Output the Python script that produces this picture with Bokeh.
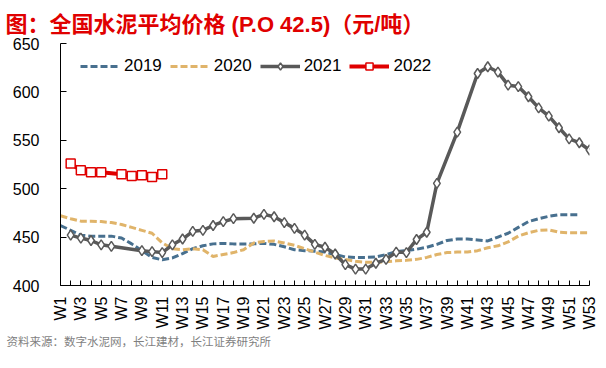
from math import pi
from bokeh.plotting import figure
from bokeh.models import FixedTicker, Range1d, Legend, LegendItem, Title
from bokeh.embed import file_html
from bokeh.resources import INLINE

# ---- data ----
week_numbers = list(range(1, 54))
tick_labels = {w: (f"W{w}" if w % 2 == 1 else "") for w in week_numbers}

weeks_2019 = list(range(1, 53))
vals_2019 = [462, 457, 452, 451, 451, 451, 449, 443, 436, 429,
             426.5, 428.5, 433, 438, 441, 443, 443.5, 443, 443, 443,
             443.5, 442.5, 440, 437, 436, 435.5, 434.5, 432, 429.5, 429,
             429, 429.5, 432, 435, 436, 437.5, 439.5, 442.5, 446.5, 448,
             448, 447, 446, 450, 454, 460, 466, 469, 471.5, 473,
             473, 473]

weeks_2020 = list(range(1, 54))
vals_2020 = [472, 469, 466.5, 466.5, 466, 465, 463, 460, 457, 454,
             444, 438, 437, 438, 437, 430, 432, 434, 437, 444,
             445.5, 446, 444, 441.5, 438, 434.5, 431, 428.5, 427, 425,
             424, 424, 424.5, 425.5, 426, 427, 429, 432, 434, 434.5,
             434.5, 436, 439, 441, 445, 451, 454.5, 457, 457.5, 455,
             454.5, 454.5, 454.5]

weeks_2021 = [2, 3, 4, 5, 6, 9, 10, 11, 12, 13, 14, 15, 16, 17, 18, 20,
              21, 22, 23, 24, 25, 26, 27, 28, 29, 30, 31, 32, 33, 34, 35,
              36, 37, 38, 40, 42, 43, 44, 45, 46, 47, 48, 49, 50, 51, 52, 53]
vals_2021 = [452, 449, 446.5, 442, 440.5, 436, 435, 434, 442, 448, 456, 457,
             462, 466, 469, 469.5, 473.5, 471, 465, 459, 452, 442.5, 439.5,
             432.5, 421.5, 417, 417, 423, 427, 434.5, 434, 447.5, 455, 505.5,
             558.5, 619, 626, 620.5, 607, 605.5, 595, 583.5, 575, 563, 551.5,
             547.5, 540]

weeks_2022 = [2, 3, 4, 5, 7, 8, 9, 10, 11]
vals_2022 = [526, 519, 517, 517, 515, 513, 514, 512, 515]

y_ticks = [400, 450, 500, 550, 600, 650]

title_text = "图：全国水泥平均价格 (P.O 42.5)（元/吨）"
source_text = "资料来源：数字水泥网，长江建材，长江证券研究所"

# ---- figure ----
FONT = "Liberation Sans"
MIXED = "Liberation Sans, 'Noto Sans CJK SC'"
p = figure(width=600, height=368, x_range=Range1d(1, 53), y_range=Range1d(400, 650),
           output_backend="svg", toolbar_location=None,
           min_border_left=60, min_border_right=11, min_border_top=43, min_border_bottom=83)
p.outline_line_color = None
p.xgrid.grid_line_color = None
p.ygrid.grid_line_color = None
p.background_fill_color = "white"
p.border_fill_color = "white"

c19 = "#48708F"
c20 = "#E0B46A"
c21 = "#595959"
c22 = "#E00000"

r19 = p.line(weeks_2019, vals_2019, line_color=c19, line_width=3, line_dash="7 3")
r20 = p.line(weeks_2020, vals_2020, line_color=c20, line_width=3, line_dash="7 3")
r21 = p.line(weeks_2021, vals_2021, line_color=c21, line_width=3.5)
r21m = p.scatter(weeks_2021, vals_2021, marker="diamond", size=10, fill_color="white",
                 line_color=c21, line_width=1.5)
r22 = p.line(weeks_2022, vals_2022, line_color=c22, line_width=4)
r22m = p.scatter(weeks_2022, vals_2022, marker="square", size=9, fill_color="white",
                 line_color=c22, line_width=1.5)

# axes
p.xaxis.ticker = FixedTicker(ticks=week_numbers)
p.xaxis.major_label_overrides = tick_labels
p.xaxis.major_label_orientation = pi / 2
p.xaxis.major_tick_in = 5
p.xaxis.major_tick_out = 0
p.xaxis.minor_tick_line_color = None
p.xaxis.axis_line_color = "black"
p.xaxis.major_tick_line_color = "black"
p.xaxis.major_label_standoff = 11
p.xaxis.major_label_text_font = FONT
p.xaxis.major_label_text_font_size = "16px"
p.xaxis.major_label_text_color = "black"

p.yaxis.ticker = FixedTicker(ticks=y_ticks)
p.yaxis.major_tick_in = 6
p.yaxis.major_tick_out = 0
p.yaxis.minor_tick_line_color = None
p.yaxis.axis_line_color = "black"
p.yaxis.major_tick_line_color = "black"
p.yaxis.major_label_standoff = 21
p.yaxis.major_label_text_font = FONT
p.yaxis.major_label_text_font_size = "16px"
p.yaxis.major_label_text_color = "black"

legend = Legend(items=[
    LegendItem(label="2019", renderers=[r19]),
    LegendItem(label="2020", renderers=[r20]),
    LegendItem(label="2021", renderers=[r21, r21m]),
    LegendItem(label="2022", renderers=[r22, r22m]),
], location=(20, 209), orientation="horizontal")
legend.background_fill_alpha = 0
legend.border_line_color = None
legend.padding = 0
legend.margin = 0
legend.spacing = 8
legend.glyph_width = 40
legend.glyph_height = 18
legend.label_standoff = 4
legend.label_text_font = FONT
legend.label_text_font_size = "17px"
legend.label_text_color = "black"
p.add_layout(legend, "center")

p.title = Title(text=title_text, align="left", offset=-55, standoff=14,
                text_font=MIXED, text_font_size="22px",
                text_font_style="bold", text_color=c22)

src = Title(text=source_text, align="left", offset=-54, standoff=7,
            vertical_align="top",
            text_font=MIXED, text_font_size="11.5px",
            text_font_style="normal", text_color="#7F7F7F")
p.add_layout(src, "below")

open("out.html", "w").write(file_html(p, INLINE))
